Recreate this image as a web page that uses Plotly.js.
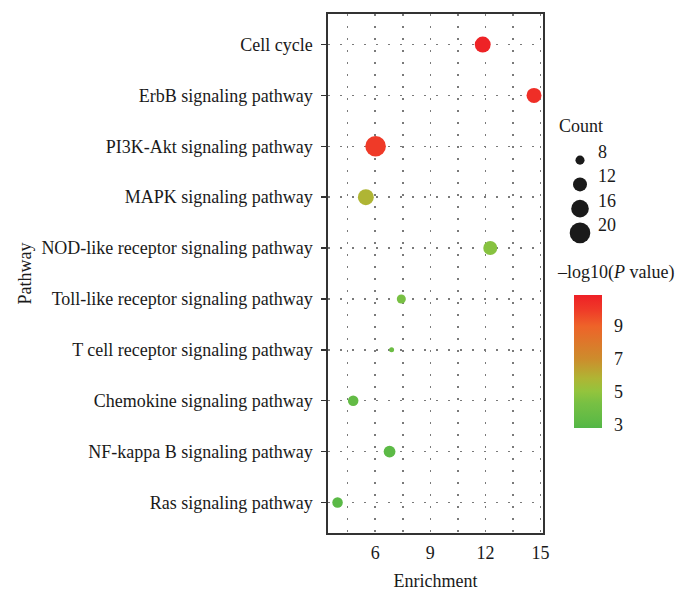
<!DOCTYPE html>
<html>
<head>
<meta charset="utf-8">
<script src="https://cdn.plot.ly/plotly-3.0.1.min.js"></script>
<style>html,body{margin:0;padding:0;background:#fff;}#chart{width:681px;height:599px;}</style>
</head>
<body>
<div id="chart"></div>
<script>
// ---- data ----
const pathways = [
  "Cell cycle",
  "ErbB signaling pathway",
  "PI3K-Akt signaling pathway",
  "MAPK signaling pathway",
  "NOD-like receptor signaling pathway",
  "Toll-like receptor signaling pathway",
  "T cell receptor signaling pathway",
  "Chemokine signaling pathway",
  "NF-kappa B signaling pathway",
  "Ras signaling pathway"
];
const enrichment = [11.85, 14.64, 6.02, 5.49, 12.26, 7.42, 6.89, 4.80, 6.78, 3.95];
const counts     = [14, 13, 20, 14, 12, 8, 6, 9, 10, 9];
const negLog10P  = [10.8, 10.4, 10.0, 5.8, 4.7, 4.3, 3.8, 3.4, 3.1, 3.0];

const xTickVals = [6, 9, 12, 15];
const xMinorVals = [4.5, 7.5, 10.5, 13.5];
const sizeLegendCounts = [8, 12, 16, 20];
const colorTickVals = [3, 5, 7, 9];

// ---- styling helpers ----
const FONT = "Liberation Serif, Times New Roman, serif";
const TXT = "#1a1a1a";
const cMin = 2.77, cMax = 10.9;
const countMin = 6, countMax = 20, rMin = 2.5, rMax = 10.3;
function sizeOf(c) {
  const r2 = rMin * rMin + (rMax * rMax - rMin * rMin) * (c - countMin) / (countMax - countMin);
  return 2 * Math.sqrt(Math.max(r2, 0.5));
}
function norm(v) { return (v - cMin) / (cMax - cMin); }
const colorscale = [
  [0, "#52b647"],
  [norm(3), "#5ab946"],
  [norm(4.3), "#78c043"],
  [norm(5), "#93c43d"],
  [norm(5.8), "#afb534"],
  [norm(7), "#cd8c2c"],
  [norm(9), "#ee6329"],
  [norm(10), "#ef3a28"],
  [1, "#ee2026"]
];

const L = 328, R = 543, T = 14, B = 533, W = 681, H = 599;
const pw = W - L, ph = B - T;
const px = x => (x - L) / pw;
const py = y => (B - y) / ph;

const grid = {gridcolor: "#7a7a7a", gridwidth: 1.5, griddash: "1.5px,10.5px"};

const traces = [
  {
    type: "scatter", mode: "markers",
    x: enrichment, y: pathways,
    xaxis: "x", yaxis: "y",
    marker: {
      size: counts.map(sizeOf), sizemode: "diameter",
      color: negLog10P, colorscale: colorscale, cmin: cMin, cmax: cMax,
      line: {width: 0}, opacity: 1,
      showscale: true,
      colorbar: {
        x: px(574), xanchor: "left", y: py(295), yanchor: "top",
        lenmode: "pixels", len: 133, thickness: 28, thicknessmode: "pixels",
        xpad: 0, ypad: 0, outlinewidth: 0,
        tickmode: "array", tickvals: colorTickVals,
        ticks: "outside", ticklen: 9, tickcolor: "rgba(0,0,0,0)",
        tickfont: {family: FONT, size: 18, color: TXT}
      }
    },
    hoverinfo: "x+y", showlegend: false
  },
  {
    type: "scatter", mode: "markers",
    x: sizeLegendCounts.map(() => 0), y: sizeLegendCounts.map(String),
    xaxis: "x2", yaxis: "y2",
    marker: {size: sizeLegendCounts.map(sizeOf), sizemode: "diameter", color: "#1a1a1a", opacity: 1, line: {width: 0}},
    hoverinfo: "skip", showlegend: false
  }
];

const annotations = sizeLegendCounts.map((c, i) => ({
  xref: "x2", yref: "y2", x: 0, y: i, xanchor: "left", yanchor: "middle",
  xshift: 16, yshift: 8, showarrow: false, text: String(c),
  font: {family: FONT, size: 18, color: TXT}
}));
annotations.push({
  xref: "paper", yref: "paper", x: px(557), y: py(126), xanchor: "left", yanchor: "middle",
  showarrow: false, text: "Count", font: {family: FONT, size: 18, color: TXT}
});
annotations.push({
  xref: "paper", yref: "paper", x: px(555), y: py(272), xanchor: "left", yanchor: "middle",
  showarrow: false, text: "–log10(<i>P</i> value)", font: {family: FONT, size: 18, color: TXT}
});

const layout = {
  width: W, height: H,
  margin: {l: L, r: 0, t: T, b: H - B, pad: 0, autoexpand: false},
  paper_bgcolor: "#fff", plot_bgcolor: "#fff",
  showlegend: false,
  font: {family: FONT, size: 18, color: TXT},
  xaxis: {
    domain: [0, (R - L) / pw],
    range: [3.43, 15.13],
    tickmode: "array", tickvals: xTickVals,
    ticks: "", ticklabelstandoff: 3,
    tickfont: {family: FONT, size: 18, color: TXT},
    showgrid: true, ...grid,
    minor: {tickmode: "array", tickvals: xMinorVals, showgrid: true, ...grid, ticks: ""},
    zeroline: false, automargin: false,
    showline: true, linecolor: "#333", linewidth: 1.6, mirror: true,
    title: {text: "Enrichment", standoff: 12, font: {family: FONT, size: 18, color: TXT}}
  },
  yaxis: {
    type: "category", categoryorder: "array", categoryarray: pathways,
    range: [9.6, -0.6],
    ticks: "outside", ticklen: 5, tickwidth: 1.5, tickcolor: "#333",
    ticklabelstandoff: 5,
    tickfont: {family: FONT, size: 18, color: TXT},
    showgrid: true, ...grid,
    zeroline: false, automargin: false,
    showline: true, linecolor: "#333", linewidth: 1.6, mirror: true,
    title: {text: "Pathway", standoff: 5, font: {family: FONT, size: 18, color: TXT}}
  },
  xaxis2: {
    domain: [px(560), px(600)], range: [-1, 1], anchor: "y2",
    visible: false, fixedrange: true
  },
  yaxis2: {
    domain: [py(245), py(148)], type: "category", categoryorder: "array",
    categoryarray: sizeLegendCounts.map(String), range: [3.5, -0.5], anchor: "x2",
    visible: false, fixedrange: true
  },
  annotations: annotations
};

Plotly.newPlot("chart", traces, layout, {staticPlot: true, displayModeBar: false});
</script>
</body>
</html>
